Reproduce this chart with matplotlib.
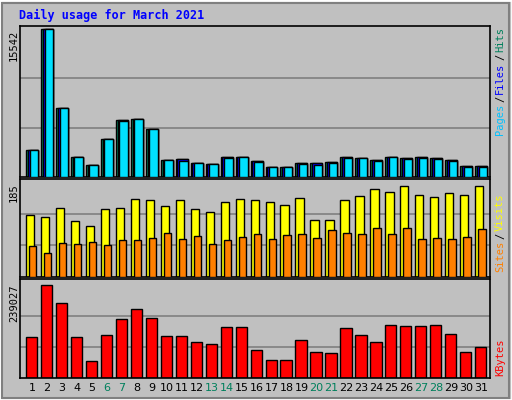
import matplotlib
matplotlib.use("Agg")
import matplotlib.pyplot as plt
from matplotlib.patches import Rectangle
import numpy as np

days = list(range(1, 32))
weekend = [6, 7, 13, 14, 20, 21, 27, 28]
hits = [2840, 15542, 7250, 2100, 1260, 4000, 6000, 6100, 5040, 1790, 1890,
        1470, 1370, 2100, 2100, 1680, 1050, 1050, 1470, 1470, 1580, 2100,
        2000, 1790, 2100, 2000, 2100, 2000, 1790, 1150, 1150]
files = [2840, 15542, 7250, 2100, 1260, 4000, 6000, 6100, 5040, 1790, 1890,
         1470, 1370, 2100, 2100, 1680, 1050, 1050, 1470, 1470, 1580, 2100,
         2000, 1790, 2100, 2000, 2100, 2000, 1790, 1150, 1150]
pages = [2840, 15542, 7250, 2100, 1260, 4000, 5900, 6100, 5040, 1790, 1700,
         1420, 1370, 2000, 2050, 1600, 1050, 1000, 1400, 1300, 1500, 2000,
         1950, 1700, 2050, 1900, 2000, 1900, 1700, 1100, 1100]
visits = [121, 116, 135, 108, 100, 133, 135, 152, 150, 139, 150,
          133, 127, 146, 152, 150, 146, 140, 154, 110, 110, 150,
          158, 171, 165, 177, 160, 156, 163, 160, 177]
sites = [60, 46, 67, 65, 69, 62, 71, 71, 75, 85, 73,
         79, 65, 71, 77, 83, 73, 81, 83, 75, 91, 85,
         83, 96, 83, 96, 73, 75, 73, 77, 94]
kbytes = [105000, 239027, 193000, 105000, 44000, 110000, 152000, 177000, 154000, 108000, 108000,
          93000, 87000, 131000, 131000, 72000, 46000, 46000, 98000, 67000, 64000, 129000,
          110000, 93000, 136000, 134000, 134000, 136000, 113000, 67000, 80000]
max_hits, max_visits, max_kb = 15542, 185, 239027

W, H = 512, 400
fig = plt.figure(figsize=(W/100, H/100), dpi=100)
fig.patch.set_facecolor("#C0C0C0")
fig.add_artist(Rectangle((0, 0), 1, 1, transform=fig.transFigure, fill=False,
                         edgecolor="#FFFFFF", lw=2))
fig.add_artist(Rectangle((2/W, 2/H), 1-5/W, 1-5/H, transform=fig.transFigure, fill=False,
                         edgecolor="#808080", lw=1.5))

mono = "DejaVu Sans Mono"
fig.text(19/W, 1-15/H, "Daily usage for March 2021", color="#0000FF",
         fontfamily=mono, fontweight="bold", fontsize=8.5, va="center", ha="left")

x = np.array(days)
xl = (0.2, 0.2 + 470/14.97)
lx, wx = 20/W, 470/W

def mkax(top, bot):
    ax = fig.add_axes([lx, 1-bot/H, wx, (bot-top)/H])
    ax.set_facecolor("#C0C0C0")
    ax.set_xlim(*xl)
    ax.set_xticks([]); ax.set_yticks([])
    for s in ax.spines.values():
        s.set_color("black"); s.set_linewidth(1.2)
    return ax

ax1 = mkax(26, 177)
ax1.set_ylim(0, max_hits * 1.02)
for f in (1/3, 2/3):
    ax1.axhline(max_hits*f, color="#808080", lw=1.2, zorder=0)
ax1.bar(x - 0.4, hits, width=0.8, align="edge", color="#00805C", edgecolor="black", lw=1, zorder=2)
ax1.bar(x - 0.28, files, width=0.68, align="edge", color="#0000FF", edgecolor="black", lw=1, zorder=3)
ax1.bar(x - 0.16, pages, width=0.56, align="edge", color="#00E0FF", edgecolor="black", lw=1, zorder=4)

ax2 = mkax(179, 277)
ax2.set_ylim(0, max_visits * 1.03)
for f in (1/3, 2/3):
    ax2.axhline(max_visits*f, color="#808080", lw=1.2, zorder=0)
ax2.bar(x - 0.4, visits, width=0.55, align="edge", color="#FFFF00", edgecolor="black", lw=1, zorder=2)
ax2.bar(x - 0.2, sites, width=0.5, align="edge", color="#FF8000", edgecolor="black", lw=1, zorder=3)

ax3 = mkax(279, 378)
ax3.set_ylim(0, max_kb * 1.06)
for f in (1/3, 2/3):
    ax3.axhline(max_kb*f, color="#808080", lw=1.2, zorder=0)
ax3.bar(x - 0.4, kbytes, width=0.75, align="edge", color="#FF0000", edgecolor="black", lw=1, zorder=2)

for val, ytop in ((max_hits, 30), (max_visits, 183), (max_kb, 284)):
    fig.text(14/W, 1-ytop/H, str(val), rotation=90, fontfamily=mono, fontsize=7.5,
             ha="center", va="top", color="black")

for d in days:
    xf = ax3.transData.transform((d, 0))[0] / W
    fig.text(xf, 1-388/H, str(d), ha="center", va="center", fontsize=8,
             color="#00805C" if d in weekend else "black")

renderer = fig.canvas.get_renderer()
def stack(parts, ybot):
    y = ybot
    for t, c in parts:
        txt = fig.text(500/W, 1-y/H, t, rotation=90, fontfamily=mono, fontsize=7.5,
                       color=c, ha="center", va="bottom")
        bb = txt.get_window_extent(renderer)
        y -= bb.height + 2
stack([("Pages", "#00C0FF"), ("/", "black"), ("Files", "#0000FF"), ("/", "black"), ("Hits", "#00805C")], 135)
stack([("Sites", "#FF8000"), ("/", "black"), ("Visits", "#FFFF00")], 272)
stack([("KBytes", "#FF0000")], 376)

fig.savefig("out.png", dpi=100, facecolor=fig.get_facecolor())
